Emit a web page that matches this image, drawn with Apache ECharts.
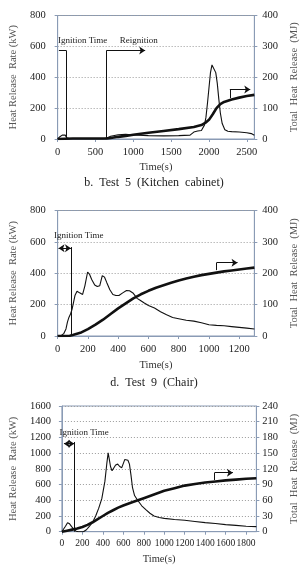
<!DOCTYPE html>
<html><head><meta charset="utf-8">
<script src="https://cdn.jsdelivr.net/npm/echarts@6/dist/echarts.min.js"></script>
<style>html,body{margin:0;padding:0;background:#fff}#c{width:308px;height:571px}</style>
</head><body><div id="c"></div>
<script>
// ---- Chart 1: Test 5 (Kitchen cabinet)
const c1HrrTime = [0,30,60,100,120,150,400,600,650,700,800,900,1000,1200,1400,1600,1750,1800,1850,1900,1940,1960,1980,2000,2020,2040,2048,2065,2090,2110,2130,2150,2175,2210,2250,2300,2400,2500,2560,2600];
const c1Hrr     = [0,15,25,25,8,3,2,2,6,18,28,30,26,22,20,22,25,45,52,55,90,140,230,330,430,480,485,470,430,360,260,170,100,60,50,48,45,40,35,25];
const c1ThrTime = [0,100,200,650,700,800,900,1000,1200,1400,1600,1800,1900,1950,2000,2050,2100,2150,2200,2250,2300,2400,2500,2600];
const c1Thr     = [0,1,1.5,2,3,7,10,14,20,26,32,39,45,52,62,80,100,113,120,124,128,134,139,143];
// ---- Chart 2: Test 9 (Chair)
const c2HrrTime = [0,20,40,55,65,75,85,95,105,115,128,145,165,180,198,210,225,245,262,278,295,310,325,345,365,385,405,430,455,475,500,525,545,570,600,640,680,720,760,800,850,900,950,1000,1050,1100,1150,1200,1250,1300];
const c2Hrr     = [0,0,15,45,90,120,140,170,215,260,285,275,265,320,408,395,360,325,315,320,385,375,340,295,265,258,258,275,290,288,272,240,228,212,195,178,155,135,118,110,100,95,85,72,68,65,60,55,50,45];
const c2ThrTime = [0,80,100,150,200,250,300,350,400,450,500,550,600,650,700,750,800,850,900,950,1000,1050,1100,1150,1200,1250,1300];
const c2Thr     = [0,1,3,10,22,36,52,70,88,104,120,133,144,154,162,170,177,183,189,194,198,202,206,209,212,215,218];
// ---- Chart 3
const c3HrrTime = [0,20,35,55,75,95,120,140,160,210,240,270,300,330,360,390,420,440,452,462,475,490,505,525,545,565,585,600,615,628,645,660,675,690,710,740,780,820,860,900,950,1000,1100,1200,1300,1400,1500,1600,1700,1800,1900];
const c3Hrr     = [0,40,70,115,100,65,25,5,0,0,25,70,120,200,300,420,640,880,1005,930,830,775,800,850,860,830,815,840,920,940,910,860,720,560,460,400,330,280,235,200,180,170,155,145,130,115,105,90,80,70,65];
const c3ThrTime = [0,50,100,150,200,250,300,350,400,450,500,550,600,700,800,900,1000,1100,1200,1300,1400,1500,1600,1700,1800,1900];
const c3Thr     = [0,2,4,6,9,13,18,24,30,36,41,46,50,57,64,71,78,83,88,91,94,96,98,99.5,101,102];

// tick settings
const c1X = {max:2600, step:500}, c1L = {max:800, step:200}, c1R = {max:400, step:100};
const c2X = {max:1300, step:200}, c2L = {max:800, step:200}, c2R = {max:400, step:100};
const c3X = {max:1900, step:200}, c3L = {max:1600, step:200}, c3R = {max:240, step:30};

// annotations (data units, left axis)
const c1Ann = {ign:112, reign:647, lvl:574, bracketStart:16, reArrowEnd:1157, thrT:2276, thrLo:265, thrHi:321, thrEnd:2546, txtIgn:[330,639], txtRe:[1073,639]};
const c2Ann = {ign:88, lineTop:567, arrowLvl:560, arrowStart:6, thrT:1050, thrLo:420, thrHi:467, thrEnd:1189, txtIgn:[139,637]};
const c3Ann = {ign:121, lineTop:1142, arrowLvl:1120, arrowStart:20, thrT:1492, thrLo:658, thrHi:751, thrEnd:1671, txtIgn:[217,1265]};

const FONT = 'Liberation Serif';
const zip = (a,b)=>a.map((v,i)=>[v,b[i]]);
const axisCol = '#8a9bb5';
const plain = v => String(v);

function xAx(i, s, nameGap, labMargin, fs){
  return {type:'value', gridIndex:i, min:0, max:s.max, interval:s.step,
    name:'Time(s)', nameLocation:'middle', nameGap:nameGap,
    nameTextStyle:{fontFamily:FONT, fontSize:10.5, color:'#333'},
    axisLine:{show:true, lineStyle:{color:axisCol}}, axisTick:{show:true, length:3, lineStyle:{color:axisCol}},
    axisLabel:{fontFamily:FONT, fontSize:fs, color:'#222', margin:labMargin, showMaxLabel:false, formatter:plain, hideOverlap:false},
    splitLine:{show:false}};
}
function yAx(i, s, pos, name, nameGap, labMargin){
  return {type:'value', gridIndex:i, min:0, max:s.max, interval:s.step, position:pos,
    name:name, nameLocation:'middle', nameGap:nameGap, nameRotate:90,
    nameTextStyle:{fontFamily:FONT, fontSize:10.5, color:'#555'},
    axisLine:{show:true, lineStyle:{color:axisCol}}, axisTick:{show:true, length:3, lineStyle:{color:axisCol}},
    axisLabel:{fontFamily:FONT, fontSize:10.5, color:'#222', margin:labMargin, formatter:plain},
    splitLine:{show:pos==='left', lineStyle:{color:'#9a9a9a', type:[1,2], width:1}}};
}
function seg(a,b,endArrow,startArrow){
  return [{coord:a, symbol:startArrow?'arrow':'none'},{coord:b, symbol:endArrow?'arrow':'none'}];
}
function txt(c, s){
  return {coord:c, symbol:'rect', symbolSize:1, itemStyle:{color:'rgba(0,0,0,0)'},
    label:{show:true, position:'inside', formatter:s, fontFamily:FONT, fontSize:9, color:'#222'}};
}
const mlBase = {silent:true, symbol:['none','none'], symbolSize:6, label:{show:false},
  lineStyle:{color:'#111', width:1, type:'solid'}, emphasis:{disabled:true}, animation:false};

const hrrStyle = {type:'line', showSymbol:false, symbol:'none', lineStyle:{color:'#111', width:1.1}, animation:false};
const thrStyle = {type:'line', showSymbol:false, symbol:'none', lineStyle:{color:'#111', width:2.6}, animation:false};

const chart = echarts.init(document.getElementById('c'), null, {renderer:'canvas'});
chart.setOption({
  backgroundColor:'#fff',
  grid:[
    {left:52, top:15.5, width:209.5, height:123.5, show:true, borderColor:axisCol, borderWidth:1},
    {left:51.5, top:210.5, width:213.5, height:125.5, show:true, borderColor:axisCol, borderWidth:1},
    {left:52.7, top:406, width:213, height:125.7, show:true, borderColor:axisCol, borderWidth:1}
  ],
  xAxis:[ xAx(0,c1X,23,7.5,10.5), xAx(1,c2X,24,8,10.5), xAx(2,c3X,22,7,9.5) ],
  yAxis:[
    yAx(0,c1L,'left','Heat Release  Rate (kW)',31,12),
    yAx(0,c1R,'right','Total  Heat  Release  (MJ)',30,8),
    yAx(1,c2L,'left','Heat Release  Rate (kW)',30,12),
    yAx(1,c2R,'right','Total  Heat  Release  (MJ)',26,8),
    yAx(2,c3L,'left','Heat Release  Rate (kW)',31,11),
    yAx(2,c3R,'right','Total  Heat  Release  (MJ)',26,6)
  ],
  graphic:[
    {type:'text', left:'center', top:177, style:{text:'b.  Test  5  (Kitchen  cabinet)', font:'12px "Liberation Serif"', fill:'#222'}},
    {type:'text', left:'center', top:377, style:{text:'d.  Test  9  (Chair)', font:'12px "Liberation Serif"', fill:'#222'}}
  ],
  series:[
    Object.assign({}, hrrStyle, {xAxisIndex:0, yAxisIndex:0, data:zip(c1HrrTime,c1Hrr),
      markLine:Object.assign({}, mlBase, {data:[
        seg([c1Ann.bracketStart,c1Ann.lvl],[c1Ann.ign,c1Ann.lvl]),
        seg([c1Ann.ign,c1Ann.lvl],[c1Ann.ign,0]),
        seg([c1Ann.reign,0],[c1Ann.reign,c1Ann.lvl]),
        seg([c1Ann.reign,c1Ann.lvl],[c1Ann.reArrowEnd,c1Ann.lvl],true),
        seg([c1Ann.thrT,c1Ann.thrLo],[c1Ann.thrT,c1Ann.thrHi]),
        seg([c1Ann.thrT,c1Ann.thrHi],[c1Ann.thrEnd,c1Ann.thrHi],true)
      ]}),
      markPoint:{silent:true, animation:false, data:[txt(c1Ann.txtIgn,'Ignition Time'), txt(c1Ann.txtRe,'Reignition')]}
    }),
    Object.assign({}, thrStyle, {xAxisIndex:0, yAxisIndex:1, data:zip(c1ThrTime,c1Thr)}),
    Object.assign({}, hrrStyle, {xAxisIndex:1, yAxisIndex:2, data:zip(c2HrrTime,c2Hrr),
      markLine:Object.assign({}, mlBase, {data:[
        seg([c2Ann.arrowStart,c2Ann.arrowLvl],[c2Ann.ign,c2Ann.arrowLvl],true,true),
        seg([c2Ann.ign,c2Ann.lineTop],[c2Ann.ign,0]),
        seg([c2Ann.thrT,c2Ann.thrLo],[c2Ann.thrT,c2Ann.thrHi]),
        seg([c2Ann.thrT,c2Ann.thrHi],[c2Ann.thrEnd,c2Ann.thrHi],true)
      ]}),
      markPoint:{silent:true, animation:false, data:[txt(c2Ann.txtIgn,'Ignition Time')]}
    }),
    Object.assign({}, thrStyle, {xAxisIndex:1, yAxisIndex:3, data:zip(c2ThrTime,c2Thr)}),
    Object.assign({}, hrrStyle, {xAxisIndex:2, yAxisIndex:4, data:zip(c3HrrTime,c3Hrr),
      markLine:Object.assign({}, mlBase, {data:[
        seg([c3Ann.arrowStart,c3Ann.arrowLvl],[c3Ann.ign,c3Ann.arrowLvl],true,true),
        seg([c3Ann.ign,c3Ann.lineTop],[c3Ann.ign,0]),
        seg([c3Ann.thrT,c3Ann.thrLo],[c3Ann.thrT,c3Ann.thrHi]),
        seg([c3Ann.thrT,c3Ann.thrHi],[c3Ann.thrEnd,c3Ann.thrHi],true)
      ]}),
      markPoint:{silent:true, animation:false, data:[txt(c3Ann.txtIgn,'Ignition Time')]}
    }),
    Object.assign({}, thrStyle, {xAxisIndex:2, yAxisIndex:5, data:zip(c3ThrTime,c3Thr)})
  ]
});
</script></body></html>
